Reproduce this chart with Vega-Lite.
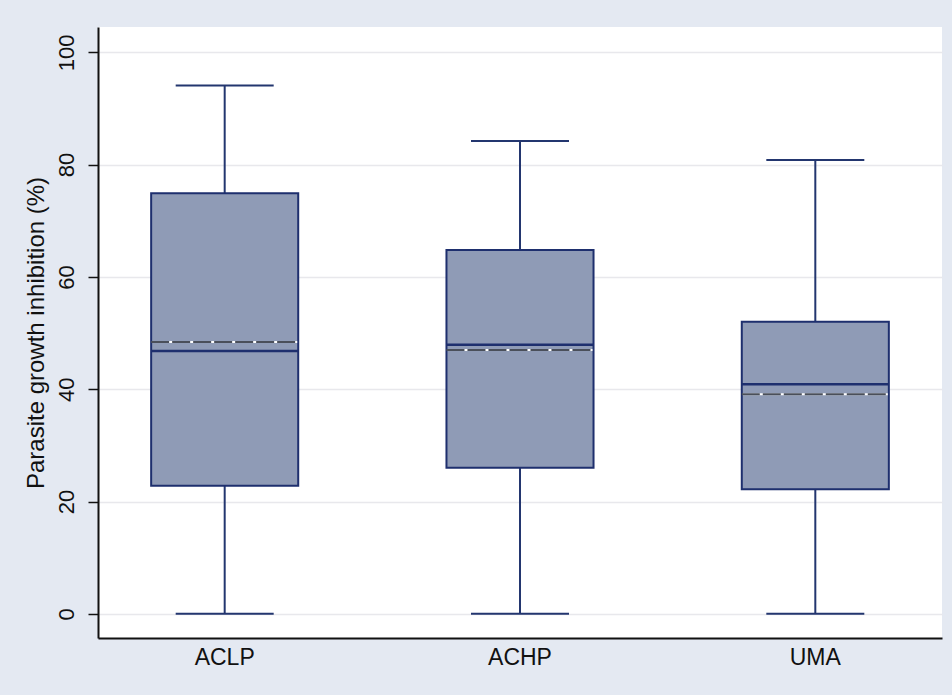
{
  "$schema": "https://vega.github.io/schema/vega-lite/v6.json",
  "autosize": {"type": "none"},
  "width": 844,
  "height": 611,
  "padding": {"left": 98, "top": 27, "right": 10, "bottom": 57},
  "background": "#e4e9f2",
  "config": {
    "view": {"fill": "white", "stroke": null},
    "font": "Liberation Sans"
  },
  "data": {
    "values": [
      {"group": "ACLP", "min": 0, "q1": 22.8, "median": 46.8, "mean": 48.4, "q3": 74.9, "max": 94.1},
      {"group": "ACHP", "min": 0, "q1": 26.0, "median": 47.9, "mean": 47.0, "q3": 64.8, "max": 84.2},
      {"group": "UMA", "min": 0, "q1": 22.2, "median": 40.9, "mean": 39.1, "q3": 52.0, "max": 80.8}
    ]
  },
  "encoding": {
    "x": {
      "field": "group",
      "type": "nominal",
      "sort": ["ACLP", "ACHP", "UMA"],
      "scale": {"paddingInner": 0.502, "paddingOuter": 0.18},
      "axis": {
        "title": null,
        "labelAngle": 0,
        "labelFontSize": 23,
        "labelColor": "#111",
        "ticks": false,
        "labelPadding": 8,
        "domainColor": "#111",
        "domainWidth": 2,
        "grid": false
      }
    }
  },
  "layer": [
    {
      "mark": {"type": "rule", "color": "#23366f", "strokeWidth": 2},
      "encoding": {
        "y": {
          "field": "min",
          "type": "quantitative",
          "scale": {"domain": [-4.3, 104.5], "nice": false, "zero": false},
          "axis": {
            "title": "Parasite growth inhibition (%)",
            "titleFontSize": 24,
            "titleFontWeight": "normal",
            "titleColor": "#111",
            "titlePadding": 7,
            "values": [0, 20, 40, 60, 80, 100],
            "labelAngle": -90,
            "labelAlign": "center",
            "labelBaseline": "bottom",
            "labelFontSize": 22,
            "labelColor": "#111",
            "labelPadding": 10,
            "tickSize": 10,
            "tickColor": "#111",
            "tickWidth": 1.5,
            "domainColor": "#111",
            "domainWidth": 2,
            "grid": true,
            "gridColor": "#e8e8ec",
            "gridWidth": 1.5
          }
        },
        "y2": {"field": "max"}
      }
    },
    {
      "mark": {"type": "tick", "color": "#23366f", "thickness": 2, "size": 98, "opacity": 1},
      "encoding": {"y": {"field": "min", "type": "quantitative"}}
    },
    {
      "mark": {"type": "tick", "color": "#23366f", "thickness": 2, "size": 98, "opacity": 1},
      "encoding": {"y": {"field": "max", "type": "quantitative"}}
    },
    {
      "mark": {"type": "bar", "fill": "#8f9bb6", "stroke": "#1e2f6e", "strokeWidth": 2},
      "encoding": {
        "y": {"field": "q1", "type": "quantitative"},
        "y2": {"field": "q3"}
      }
    },
    {
      "mark": {"type": "tick", "color": "#1e2f6e", "thickness": 2.5, "size": 147, "opacity": 1},
      "encoding": {"y": {"field": "median", "type": "quantitative"}}
    },
    {
      "mark": {"type": "tick", "color": "#ffffff", "thickness": 2, "size": 145, "opacity": 1},
      "encoding": {"y": {"field": "mean", "type": "quantitative"}}
    },
    {
      "mark": {"type": "rule", "color": "#4a4f5a", "strokeWidth": 2, "strokeDash": [18, 3]},
      "encoding": {
        "x": {"field": "group", "type": "nominal", "sort": ["ACLP", "ACHP", "UMA"], "bandPosition": 0},
        "x2": {"field": "group", "bandPosition": 1},
        "y": {"field": "mean", "type": "quantitative"}
      }
    }
  ]
}
